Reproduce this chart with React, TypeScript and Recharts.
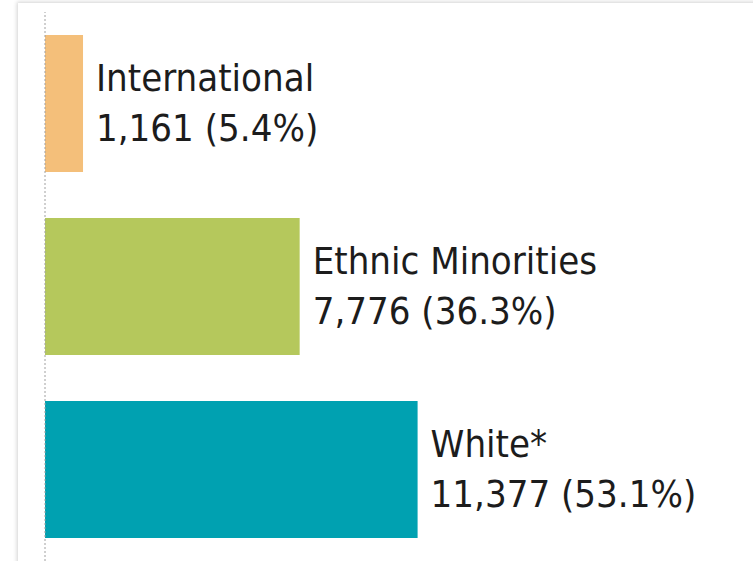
import React from "react";
import { BarChart, Bar, XAxis, YAxis, Cell, LabelList, ReferenceLine } from "recharts";

const groups = ["International", "Ethnic Minorities", "White*"];
const counts = [1161, 7776, 11377];
const shares = [5.4, 36.3, 53.1];
const barColors = ["#F4BF7A", "#B5C85C", "#00A1B1"];

const data = groups.map((name, i) => ({
  name,
  value: counts[i],
  share: shares[i],
}));

const FONT = '"DejaVu Sans Condensed", "DejaVu Sans", Verdana, sans-serif';

function TwoLineLabel(props: any) {
  const { x, y, width, height, index } = props;
  const row = data[index];
  if (!row) return null;
  const lx = x + width + 13;
  const cy = y + height / 2;
  return (
    <text
      x={lx}
      y={cy}
      fill="#1c1c1c"
      fontFamily={FONT}
      fontSize={38}
      style={{ fontStretch: "condensed" }}
    >
      <tspan x={lx} y={cy - 12}>
        {row.name}
      </tspan>
      <tspan x={lx} y={cy + 38}>
        {`${row.value.toLocaleString("en-US")} (${row.share.toFixed(1)}%)`}
      </tspan>
    </text>
  );
}

export default function App() {
  return (
    <div
      style={{
        position: "absolute",
        left: 0,
        top: 0,
        width: 753,
        height: 561,
        background: "#fff",
        overflow: "hidden",
      }}
    >
      <div
        style={{
          position: "absolute",
          left: 18,
          top: 3,
          width: 800,
          height: 620,
          background: "#fff",
          boxShadow: "-1px -1px 4px rgba(0,0,0,0.18)",
        }}
      />
      <div style={{ position: "absolute", left: 0, top: 0 }}>
        <BarChart
          width={753}
          height={561}
          data={data}
          layout="vertical"
          margin={{ top: 12, right: 53, bottom: 0, left: 45 }}
          barCategoryGap="12.5%"
        >
          <XAxis type="number" domain={[0, 20000]} hide />
          <YAxis type="category" dataKey="name" hide />
          <ReferenceLine
            x={0}
            stroke="#a0a0a0"
            strokeWidth={1}
            strokeDasharray="2 2"
          />
          <Bar dataKey="value" isAnimationActive={false}>
            {data.map((d, i) => (
              <Cell key={d.name} fill={barColors[i]} />
            ))}
            <LabelList dataKey="value" content={<TwoLineLabel />} />
          </Bar>
        </BarChart>
      </div>
    </div>
  );
}
